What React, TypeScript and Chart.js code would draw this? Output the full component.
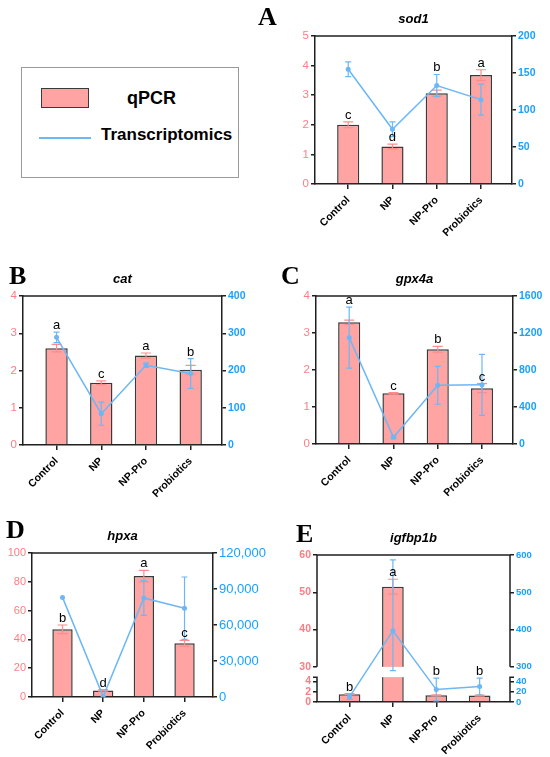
import { useEffect, useRef } from "react"
import { Chart, registerables, LinearScale } from "chart.js"

Chart.register(...registerables)

// linear scale with a gap between lowMax and highMin (broken y axis)
class BrokenScale extends LinearScale {
  static id = "broken"

  frac(v: number) {
    const { lowMax, highMin, lowFrac, gapFrac } = (this.options as any).brk
    const max = this.max
    if (v <= lowMax) return (v / lowMax) * lowFrac
    if (v < highMin) return lowFrac + ((v - lowMax) / (highMin - lowMax)) * gapFrac
    return lowFrac + gapFrac + ((v - highMin) / (max - highMin)) * (1 - lowFrac - gapFrac)
  }

  getPixelForValue(value: number) {
    return this.getPixelForDecimal(this.frac(value))
  }

  getValueForPixel(pixel: number) {
    const { lowMax, highMin, lowFrac, gapFrac } = (this.options as any).brk
    const d = this.getDecimalForPixel(pixel)
    if (d <= lowFrac) return (d / lowFrac) * lowMax
    if (d < lowFrac + gapFrac) return lowMax + ((d - lowFrac) / gapFrac) * (highMin - lowMax)
    return highMin + ((d - lowFrac - gapFrac) / (1 - lowFrac - gapFrac)) * (this.max - highMin)
  }
}
Chart.register(BrokenScale)
Chart.defaults.font.family = "'Liberation Sans', Arial, sans-serif"

const groups = ["Control", "NP", "NP-Pro", "Probiotics"]

// sod1
const sod1Qpcr = [2.0, 1.27, 3.07, 3.68]
const sod1QpcrSd = [0.1, 0.08, 0.1, 0.18]
const sod1Rna = [155, 74, 133, 114]
const sod1RnaSd = [10, 10, 15, 21]
const sod1Letters = ["c", "d", "b", "a"]
const sod1LeftTicks = [0, 1, 2, 3, 4, 5]
const sod1RightTicks = [0, 50, 100, 150, 200]

// cat
const catQpcr = [2.6, 1.67, 2.4, 2.02]
const catQpcrSd = [0.1, 0.05, 0.07, 0.12]
const catRna = [289, 84, 214, 192]
const catRnaSd = [14, 31, 6, 40]
const catLetters = ["a", "c", "a", "b"]
const catLeftTicks = [0, 1, 2, 3, 4]
const catRightTicks = [0, 100, 200, 300, 400]

// gpx4a
const gpxQpcr = [3.29, 1.37, 2.56, 1.51]
const gpxQpcrSd = [0.06, 0.02, 0.08, 0.12]
const gpxRna = [1150, 72, 635, 640]
const gpxRnaSd = [330, 15, 205, 330]
const gpxLetters = ["a", "c", "b", "c"]
const gpxLeftTicks = [0, 1, 2, 3, 4]
const gpxRightTicks = [0, 400, 800, 1200, 1600]

// hpxa
const hpxQpcr = [47, 4.6, 84, 37.3]
const hpxQpcrSd = [3, 0.5, 4, 2]
const hpxRna = [83000, 300, 82500, 74000]
const hpxRnaSd = [0, 0, 14500, 26000]
const hpxLetters = ["b", "d", "a", "c"]
const hpxLeftTicks = [0, 20, 40, 60, 80, 100]
const hpxRightTicks = [0, 30000, 60000, 90000, 120000]

// igfbp1b
const igfQpcr = [1.5, 51.5, 1.3, 1.25]
const igfQpcrSd = [0.1, 2.0, 0.1, 0.1]
const igfRna = [10, 397, 24, 30]
const igfRnaSd = [5, 190, 22, 16]
const igfLetters = ["b", "a", "b", "b"]
const igfLeftTicks = [0, 2, 4, 30, 40, 50, 60]
const igfRightTicks = [0, 20, 40, 300, 400, 500, 600]

const AXIS = "#1f1f1f"
const PINK_FILL = "#ffa3a3"
const PINK_TEXT = "#ff7c84"
const PINK_ERR = "#ff8c8c"
const BLUE = "#6cb7f5"
const BLUE_TEXT = "#1aa0ff"

type Brk = { lowMax: number; highMin: number; lowFrac: number; gapFrac: number }
type Font = { size: number; weight?: string }

interface PanelDef {
  letter: string
  letterPos: { x: number; y: number }
  title: string
  qpcr: number[]
  qpcrSd: number[]
  rna: number[]
  rnaSd: number[]
  letters: string[]
  leftTicks: number[]
  rightTicks: number[]
  leftBreak?: Brk
  rightBreak?: Brk
  leftFont: Font
  rightFont: Font
  box: { x: number; y: number; w: number; h: number }
  area: { l: number; r: number; t: number; b: number }
}

const panels: PanelDef[] = [
  {
    letter: "A", letterPos: { x: 258, y: 4 }, title: "sod1",
    qpcr: sod1Qpcr, qpcrSd: sod1QpcrSd, rna: sod1Rna, rnaSd: sod1RnaSd, letters: sod1Letters,
    leftTicks: sod1LeftTicks, rightTicks: sod1RightTicks,
    leftFont: { size: 11.5 }, rightFont: { size: 10.5, weight: "bold" },
    box: { x: 270, y: 0, w: 280, h: 250 }, area: { l: 45, r: 242, t: 36, b: 184 },
  },
  {
    letter: "B", letterPos: { x: 9, y: 263 }, title: "cat",
    qpcr: catQpcr, qpcrSd: catQpcrSd, rna: catRna, rnaSd: catRnaSd, letters: catLetters,
    leftTicks: catLeftTicks, rightTicks: catRightTicks,
    leftFont: { size: 11.5 }, rightFont: { size: 10.5, weight: "bold" },
    box: { x: 0, y: 250, w: 275, h: 250 }, area: { l: 23, r: 222, t: 46, b: 195 },
  },
  {
    letter: "C", letterPos: { x: 281, y: 263 }, title: "gpx4a",
    qpcr: gpxQpcr, qpcrSd: gpxQpcrSd, rna: gpxRna, rnaSd: gpxRnaSd, letters: gpxLetters,
    leftTicks: gpxLeftTicks, rightTicks: gpxRightTicks,
    leftFont: { size: 11.5 }, rightFont: { size: 10.5, weight: "bold" },
    box: { x: 275, y: 250, w: 275, h: 250 }, area: { l: 41, r: 238, t: 46, b: 194 },
  },
  {
    letter: "D", letterPos: { x: 6, y: 517 }, title: "hpxa",
    qpcr: hpxQpcr, qpcrSd: hpxQpcrSd, rna: hpxRna, rnaSd: hpxRnaSd, letters: hpxLetters,
    leftTicks: hpxLeftTicks, rightTicks: hpxRightTicks,
    leftFont: { size: 11 }, rightFont: { size: 13 },
    box: { x: 0, y: 505, w: 275, h: 252 }, area: { l: 32, r: 213, t: 48, b: 192 },
  },
  {
    letter: "E", letterPos: { x: 296, y: 521 }, title: "igfbp1b",
    qpcr: igfQpcr, qpcrSd: igfQpcrSd, rna: igfRna, rnaSd: igfRnaSd, letters: igfLetters,
    leftTicks: igfLeftTicks, rightTicks: igfRightTicks,
    leftBreak: { lowMax: 4.8, highMin: 30, lowFrac: 0.169, gapFrac: 0.07 },
    rightBreak: { lowMax: 48, highMin: 300, lowFrac: 0.169, gapFrac: 0.07 },
    leftFont: { size: 10.5, weight: "bold" }, rightFont: { size: 9.5, weight: "bold" },
    box: { x: 275, y: 505, w: 275, h: 252 }, area: { l: 42, r: 235, t: 50, b: 197 },
  },
]

function drawErr(ctx: CanvasRenderingContext2D, xs: any, ys: any, vals: number[], sds: number[], color: string, cap: number) {
  ctx.save()
  ctx.strokeStyle = color
  ctx.lineWidth = 1.2
  vals.forEach((v, i) => {
    const sd = sds[i]
    if (!sd) return
    const x = xs.getPixelForValue(i)
    const y1 = ys.getPixelForValue(v + sd)
    const y2 = ys.getPixelForValue(Math.max(v - sd, ys.min))
    ctx.beginPath()
    ctx.moveTo(x, y1)
    ctx.lineTo(x, y2)
    ctx.moveTo(x - cap, y1)
    ctx.lineTo(x + cap, y1)
    ctx.moveTo(x - cap, y2)
    ctx.lineTo(x + cap, y2)
    ctx.stroke()
  })
  ctx.restore()
}

function buildConfig(p: PanelDef): any {
  const { box, area } = p

  const yScale = (ticks: number[], side: "left" | "right", brk: Brk | undefined, color: string, font: Font) => ({
    type: brk ? "broken" : "linear",
    position: side,
    min: ticks[0],
    max: ticks[ticks.length - 1],
    bounds: "data",
    brk,
    afterBuildTicks: (s: any) => {
      s.ticks = ticks.map((v) => ({ value: v }))
    },
    afterFit: (s: any) => {
      s.width = side === "left" ? area.l : box.w - area.r
      s.paddingTop = 0
      s.paddingBottom = 0
    },
    border: { display: !brk, color: AXIS, width: 1.5 },
    grid: { drawOnChartArea: false, tickLength: 4, color: AXIS, lineWidth: 1.5 },
    ticks: {
      color,
      font,
      padding: 2,
      callback: (v: number) => (v >= 10000 ? Number(v).toLocaleString("en-US") : String(v)),
    },
  })

  const decor = {
    id: "decor",
    afterDatasetDraw(chart: any, args: any) {
      const ctx = chart.ctx as CanvasRenderingContext2D
      const { x: xs, yL, yR } = chart.scales
      const ca = chart.chartArea
      if (args.index === 0) {
        if (p.leftBreak) {
          const yTop = yL.getPixelForValue(p.leftBreak.highMin)
          const yBot = yL.getPixelForValue(p.leftBreak.lowMax)
          ctx.save()
          ctx.fillStyle = "#fff"
          ctx.fillRect(ca.left + 1, yTop, ca.right - ca.left - 2, yBot - yTop)
          ctx.restore()
        }
        drawErr(ctx, xs, yL, p.qpcr, p.qpcrSd, PINK_ERR, 5)
      } else if (args.index === 1) {
        drawErr(ctx, xs, yR, p.rna, p.rnaSd, BLUE, 3)
      }
    },
    afterDraw(chart: any) {
      const ctx = chart.ctx as CanvasRenderingContext2D
      const { x: xs, yL, yR } = chart.scales
      const ca = chart.chartArea
      ctx.save()
      ctx.strokeStyle = AXIS
      ctx.lineWidth = 1.5
      ctx.beginPath()
      ctx.moveTo(ca.left - 0.75, ca.top)
      ctx.lineTo(ca.right + 0.75, ca.top)
      if (p.leftBreak) {
        const yTop = yL.getPixelForValue(p.leftBreak.highMin)
        const yBot = yL.getPixelForValue(p.leftBreak.lowMax)
        for (const [x, dir] of [[ca.left, -1], [ca.right, 1]]) {
          ctx.moveTo(x, ca.bottom)
          ctx.lineTo(x, yBot)
          ctx.lineTo(x + dir * 4, yBot)
          ctx.moveTo(x, yTop)
          ctx.lineTo(x, ca.top)
        }
      }
      ctx.stroke()

      // significance letters
      ctx.fillStyle = "#000"
      ctx.font = "13px 'Liberation Sans', Arial, sans-serif"
      ctx.textAlign = "center"
      ctx.textBaseline = "alphabetic"
      p.letters.forEach((l, i) => {
        const x = xs.getPixelForValue(i)
        const cap = yL.getPixelForValue(p.qpcr[i] + p.qpcrSd[i])
        const lineTop = yR.getPixelForValue(p.rna[i] + p.rnaSd[i])
        const gap = cap - lineTop
        const y = gap >= 0 && gap <= 18 ? lineTop : cap
        ctx.fillText(l, x, y - 3)
      })

      // gene title
      ctx.font = "italic bold 13px 'Liberation Sans', Arial, sans-serif"
      ctx.textBaseline = "middle"
      ctx.fillText(p.title, (ca.left + ca.right) / 2, ca.top - 17)
      ctx.restore()
    },
  }

  return {
    type: "bar",
    data: {
      datasets: [
        {
          type: "bar",
          label: "qPCR",
          data: p.qpcr.map((y, x) => ({ x, y })),
          yAxisID: "yL",
          backgroundColor: PINK_FILL,
          borderColor: "#3a3a3a",
          borderWidth: 1.5,
          barPercentage: 0.5,
          categoryPercentage: 1,
          order: 2,
        },
        {
          type: "line",
          label: "Transcriptomics",
          data: p.rna.map((y, x) => ({ x, y })),
          yAxisID: "yR",
          borderColor: BLUE,
          borderWidth: 1.5,
          pointRadius: 2.5,
          pointBackgroundColor: BLUE,
          pointBorderWidth: 0,
          order: 1,
        },
      ],
    },
    options: {
      animation: false,
      responsive: false,
      layout: { padding: { top: area.t, left: 0, right: 0, bottom: 0 } },
      plugins: { legend: { display: false }, tooltip: { enabled: false } },
      scales: {
        x: {
          type: "linear",
          min: -0.75,
          max: 3.7,
          bounds: "data",
          offset: false,
          afterBuildTicks: (s: any) => {
            s.ticks = groups.map((_, i) => ({ value: i }))
          },
          afterFit: (s: any) => {
            s.height = box.h - area.b
            s.paddingLeft = 0
            s.paddingRight = 0
          },
          border: { display: true, color: AXIS, width: 1.5 },
          grid: { drawOnChartArea: false, offset: false, tickLength: 5, color: AXIS, lineWidth: 1.5 },
          ticks: {
            color: "#000",
            font: { size: 10.5, weight: "bold" },
            minRotation: 45,
            maxRotation: 45,
            autoSkip: false,
            padding: 5,
            callback: (v: number) => groups[v] ?? "",
          },
        },
        yL: yScale(p.leftTicks, "left", p.leftBreak, PINK_TEXT, p.leftFont),
        yR: yScale(p.rightTicks, "right", p.rightBreak, BLUE_TEXT, p.rightFont),
      },
    },
    plugins: [decor],
  }
}

function PanelChart({ p }: { p: PanelDef }) {
  const ref = useRef<HTMLCanvasElement>(null)

  useEffect(() => {
    if (!ref.current) return
    const chart = new Chart(ref.current, buildConfig(p))
    return () => chart.destroy()
  }, [p])

  return (
    <canvas
      ref={ref}
      width={p.box.w}
      height={p.box.h}
      style={{ position: "absolute", left: p.box.x, top: p.box.y, width: p.box.w, height: p.box.h }}
    />
  )
}

export default function App() {
  const sans = "'Liberation Sans', Arial, sans-serif"
  return (
    <div style={{ position: "absolute", left: 0, top: 0, width: 550, height: 757, background: "#fff", fontFamily: sans }}>
      {panels.map((p) => (
        <PanelChart key={p.letter} p={p} />
      ))}
      {panels.map((p) => (
        <span
          key={"l" + p.letter}
          style={{
            position: "absolute",
            left: p.letterPos.x,
            top: p.letterPos.y,
            font: "bold 26px 'Liberation Serif', serif",
            lineHeight: "26px",
          }}
        >
          {p.letter}
        </span>
      ))}
      {/* legend */}
      <div style={{ position: "absolute", left: 21, top: 67, width: 218, height: 111, border: "1.5px solid #9a9a9a", boxSizing: "border-box" }} />
      <div style={{ position: "absolute", left: 41, top: 88, width: 48, height: 20, background: PINK_FILL, border: "1.5px solid #3a3a3a", boxSizing: "border-box" }} />
      <span style={{ position: "absolute", left: 127, top: 88, font: `bold 18px ${sans}`, lineHeight: "20px" }}>qPCR</span>
      <div style={{ position: "absolute", left: 39, top: 137, width: 52, height: 2, background: BLUE }} />
      <span style={{ position: "absolute", left: 101, top: 125, font: `bold 17px ${sans}`, lineHeight: "20px" }}>Transcriptomics</span>
    </div>
  )
}
